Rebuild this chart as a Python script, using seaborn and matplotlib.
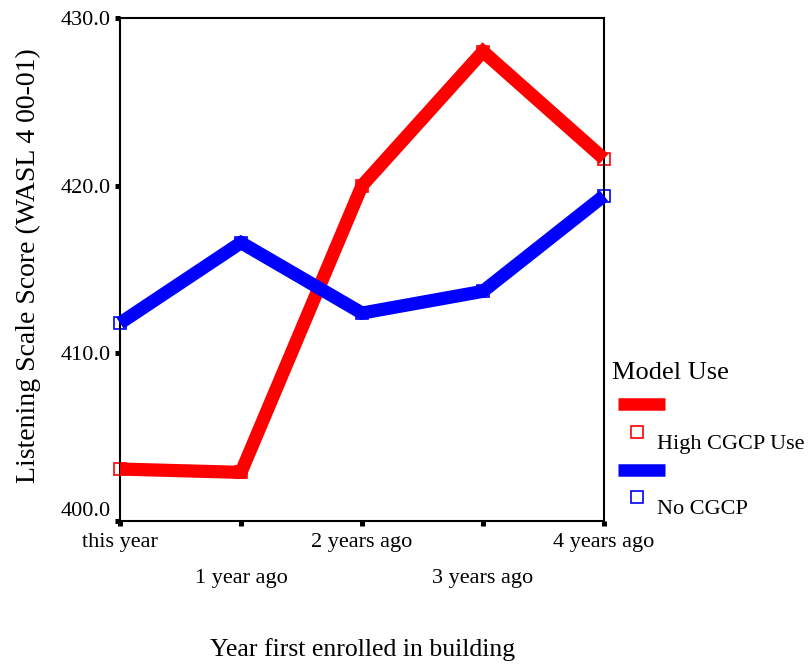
import matplotlib
matplotlib.use("Agg")
import matplotlib.pyplot as plt
from matplotlib.lines import Line2D
import seaborn as sns
import pandas as pd

years = ["this year", "1 year ago", "2 years ago", "3 years ago", "4 years ago"]
groups = ["High CGCP Use", "No CGCP"]
high_cgcp = [403.1, 402.9, 420.0, 428.0, 421.6]
no_cgcp = [411.8, 416.6, 412.4, 413.7, 419.4]
yticks = [400.0, 410.0, 420.0, 430.0]
colors = {"High CGCP Use": "#ff0000", "No CGCP": "#0000ff"}

df = pd.DataFrame({
    "pos": list(range(len(years))) * 2,
    "score": high_cgcp + no_cgcp,
    "Model Use": [groups[0]] * len(years) + [groups[1]] * len(years),
})

sns.set_style("white")
plt.rcParams["font.family"] = ["Liberation Serif", "DejaVu Serif"]
plt.rcParams["text.color"] = "black"
plt.rcParams["xtick.color"] = "black"
plt.rcParams["ytick.color"] = "black"
plt.rcParams["xtick.labelcolor"] = "black"
plt.rcParams["ytick.labelcolor"] = "black"

W, H = 811, 667
fig = plt.figure(figsize=(W / 100, H / 100), dpi=100)
ax = fig.add_axes([120 / W, 1 - 521 / H, (604 - 120) / W, (521 - 18) / H])

# hollow square markers underneath the lines
sns.lineplot(data=df, x="pos", y="score", hue="Model Use", palette=colors,
             linewidth=0, marker="s", markersize=8, markerfacecolor="none",
             markeredgewidth=1.2, legend=False, ax=ax, zorder=2)
n_marker_lines = len(ax.lines)
sns.lineplot(data=df, x="pos", y="score", hue="Model Use", palette=colors,
             linewidth=9.5, legend=False, ax=ax, zorder=3,
             solid_joinstyle="miter", solid_capstyle="butt")
for i, ln in enumerate(ax.lines):
    ln.set_clip_on(False)
    if i < n_marker_lines:
        ln.set_markeredgecolor(ln.get_color())
        ln.set_linestyle("none")

ax.set_xlim(0, 4)
ax.set_ylim(400, 430)
ax.set_xticks(range(len(years)))
ax.set_xticklabels(years, fontsize=16)
ax.set_yticks(yticks)
ax.set_yticklabels([f"{v:.1f}" for v in yticks], fontsize=16)
ax.tick_params(axis="both", direction="out", length=3.6, width=3.6, color="black",
               bottom=True, left=True, labelcolor="black")
ax.tick_params(axis="y", pad=3)
ax.tick_params(axis="x", pad=5)
for i, t in enumerate(ax.xaxis.get_major_ticks()):
    if i % 2 == 1:
        t.set_pad(31)
ax.get_yticklabels()[0].set_va("bottom")

for s in ax.spines.values():
    s.set_visible(True)
    s.set_color("black")
    s.set_linewidth(1.5)

ax.set_xlabel("")
ax.set_ylabel("")
fig.text(363 / W, 1 - 650 / H, "Year first enrolled in building", fontsize=18.5,
         ha="center", va="center", color="black")
fig.text(28 / W, 1 - 266 / H, "Listening Scale Score (WASL 4 00-01)", fontsize=20,
         rotation=90, ha="center", va="center", color="black")

# legend
fig.text(612 / W, 1 - 373 / H, "Model Use", fontsize=19, ha="left", va="center",
         color="black")
entry_y = [404.5, 470]
for g, yb in zip(groups, entry_y):
    c = colors[g]
    fig.add_artist(Line2D([618 / W, 665 / W], [1 - yb / H, 1 - yb / H],
                          transform=fig.transFigure, color=c, linewidth=9,
                          solid_capstyle="butt"))
    fig.add_artist(Line2D([637 / W], [1 - (yb + 27) / H], transform=fig.transFigure,
                          marker="s", markersize=8, markerfacecolor="none",
                          markeredgecolor=c, markeredgewidth=1.2, linestyle="none"))
    fig.text(657 / W, 1 - (yb + 40) / H, g, fontsize=16, ha="left", va="center",
             color="black")

fig.savefig("out.png", dpi=100)
